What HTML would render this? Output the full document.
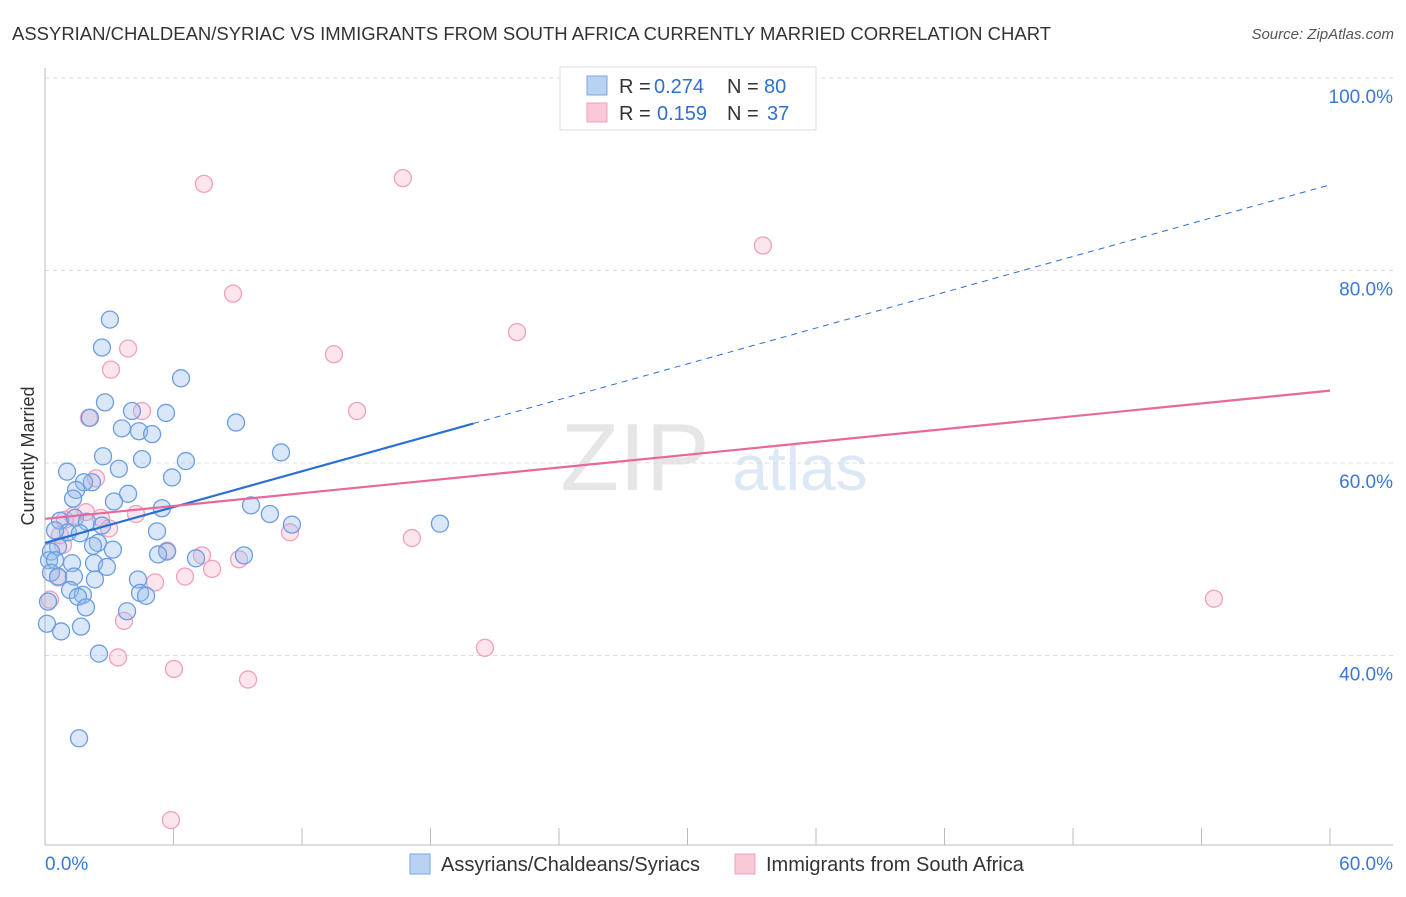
<!DOCTYPE html>
<html><head><meta charset="utf-8"><style>
body{margin:0;background:#fff;font-family:"Liberation Sans",sans-serif;}
svg text{font-family:"Liberation Sans",sans-serif;}
</style></head><body>
<svg id="c" width="1406" height="892">
<text x="12" y="40" font-size="18" fill="#333" textLength="1039" lengthAdjust="spacingAndGlyphs">ASSYRIAN/CHALDEAN/SYRIAC VS IMMIGRANTS FROM SOUTH AFRICA CURRENTLY MARRIED CORRELATION CHART</text>
<text x="1394" y="39" font-size="15" fill="#555" text-anchor="end" font-style="italic">Source: ZipAtlas.com</text>
<text x="635" y="490" font-size="96" fill="#e6e6e6" font-family="Liberation Serif" text-anchor="middle">ZIP</text>
<text x="800" y="490" font-size="64" fill="#dde8f6" text-anchor="middle">atlas</text>
<text transform="translate(34,456) rotate(-90)" font-size="18" fill="#333" text-anchor="middle">Currently Married</text>
<g id="grid"></g><g id="marks"></g>
<g>
<rect x="560" y="67" width="256" height="63" fill="#fff" stroke="#ddd"/>
<rect x="587" y="76" width="20" height="19" fill="#b9d2f3" stroke="#7aa6e0"/>
<rect x="587" y="103" width="20" height="19" fill="#f9c9d8" stroke="#eea0bb"/>
<text y="93" font-size="20" fill="#333"><tspan x="619">R =</tspan><tspan x="654" fill="#2f6fd0">0.274</tspan><tspan x="727">N =</tspan><tspan x="764" fill="#2f6fd0">80</tspan></text>
<text y="120" font-size="20" fill="#333"><tspan x="619">R =</tspan><tspan x="657" fill="#2f6fd0">0.159</tspan><tspan x="727">N =</tspan><tspan x="767" fill="#2f6fd0">37</tspan></text>
</g>
<g>
<rect x="410" y="854" width="20" height="20" fill="#b9d2f3" stroke="#7aa6e0"/>
<text x="441" y="871" font-size="20" fill="#333">Assyrians/Chaldeans/Syriacs</text>
<rect x="735" y="854" width="20" height="20" fill="#f9c9d8" stroke="#eea0bb"/>
<text x="766" y="871" font-size="20" fill="#333">Immigrants from South Africa</text>
</g>
</svg>
<script>
const yTicks=[40,60,80,100];
const yTickLabels=["40.0%","60.0%","80.0%","100.0%"];
const xTicks=[0,6,12,18,24,30,36,42,48,54,60];
const blueX=[3.03,2.66,6.35,2.80,4.06,5.65,8.92,3.59,4.39,5.00,2.10,11.02,2.71,6.58,4.53,1.03,3.45,5.93,2.19,1.82,1.45,3.88,1.31,3.22,9.62,5.46,10.50,11.53,18.44,0.70,1.40,1.96,2.66,1.07,1.63,0.47,5.23,2.47,3.17,0.61,0.28,2.24,5.70,5.28,7.05,9.29,0.19,0.47,1.26,2.29,2.89,0.28,0.61,1.35,2.33,4.34,1.17,1.77,1.54,4.44,4.72,1.91,3.83,0.14,1.68,0.75,0.09,2.52,1.59];
const blueY=[74.9,72.0,68.8,66.3,65.4,65.2,64.2,63.6,63.3,63.0,64.7,61.1,60.7,60.2,60.4,59.1,59.4,58.5,58.0,58.0,57.2,56.8,56.3,56.0,55.6,55.3,54.7,53.6,53.7,54.0,54.3,53.9,53.5,52.8,52.7,53.0,52.9,51.7,51.0,51.3,50.8,51.4,50.8,50.5,50.1,50.4,49.9,49.9,49.6,49.6,49.2,48.6,48.2,48.2,47.9,47.9,46.8,46.3,46.1,46.5,46.2,45.0,44.6,45.6,43.0,42.5,43.3,40.2,31.4];
const pinkX=[7.42,16.71,33.52,8.78,22.04,13.49,3.88,3.08,14.57,4.53,2.05,2.38,1.31,1.91,2.61,2.99,4.25,11.44,17.13,5.70,7.33,9.06,7.80,6.54,5.14,0.84,0.61,0.23,3.69,54.58,20.54,3.41,6.02,9.48,5.88,0.70,0.93];
const pinkY=[89.0,89.6,82.6,77.6,73.6,71.3,71.9,69.7,65.4,65.4,64.7,58.4,54.5,54.9,54.3,53.2,54.7,52.8,52.2,50.9,50.4,50.0,49.0,48.2,47.6,51.5,48.1,45.8,43.6,45.9,40.8,39.8,38.6,37.5,22.9,52.5,54.1];
const blueTrend=[51.7,0.62];const pinkTrend=[54.2,0.222];
const X=v=>45+v*21.417, Y=v=>463-(v-60)*9.625;
const NS="http://www.w3.org/2000/svg";
function mk(p,t,a){const e=document.createElementNS(NS,t);for(const k in a)e.setAttribute(k,a[k]);p.appendChild(e);return e;}
const g=document.getElementById('grid'),m=document.getElementById('marks');
yTicks.forEach((v,i)=>{
 const l=mk(g,'line',{x1:45,x2:1393,y1:Y(v),y2:Y(v),stroke:'#ddd','stroke-dasharray':'4,4'});
 
 
 const t=mk(g,'text',{x:1393,y:Y(v)+25,'font-size':19,fill:'#3a78d6','text-anchor':'end'});t.textContent=yTickLabels[i];
 
 
});
mk(g,'line',{x1:45,x2:45,y1:68,y2:845,stroke:'#bbb'});
mk(g,'line',{x1:45,x2:1393,y1:845,y2:845,stroke:'#bbb'});
xTicks.forEach(v=>{const l=mk(g,'line',{x1:X(v),x2:X(v),y1:828,y2:845,stroke:'#bbb'});
 
 });
let t=mk(g,'text',{x:45,y:870,'font-size':19,fill:'#3a78d6'});t.textContent='0.0%';


t=mk(g,'text',{x:1393,y:870,'font-size':19,fill:'#3a78d6','text-anchor':'end'});t.textContent='60.0%';


pinkX.forEach((x,i)=>{const c=mk(m,'circle',{cx:X(x),cy:Y(pinkY[i]),r:8.5,fill:'rgba(246,170,195,0.3)',stroke:'#f0a0bc','stroke-width':1.3});
 
 });
blueX.forEach((x,i)=>{const c=mk(m,'circle',{cx:X(x),cy:Y(blueY[i]),r:8.5,fill:'rgba(150,185,235,0.35)',stroke:'#6a9ee2','stroke-width':1.3});
 
 });
const bt=x=>blueTrend[0]+blueTrend[1]*x, pt=x=>pinkTrend[0]+pinkTrend[1]*x;
let l=mk(m,'line',{x1:X(0),y1:Y(bt(0)),x2:X(20),y2:Y(bt(20)),stroke:'#2a6fd6','stroke-width':2.2});


l=mk(m,'line',{x1:X(20),y1:Y(bt(20)),x2:X(59.9),y2:Y(bt(59.9)),stroke:'#2a6fd6','stroke-width':1,'stroke-dasharray':'6,5'});


l=mk(m,'line',{x1:X(0),y1:Y(pt(0)),x2:X(60),y2:Y(pt(60)),stroke:'#e8689a','stroke-width':2.2});


</script>
</body></html>
